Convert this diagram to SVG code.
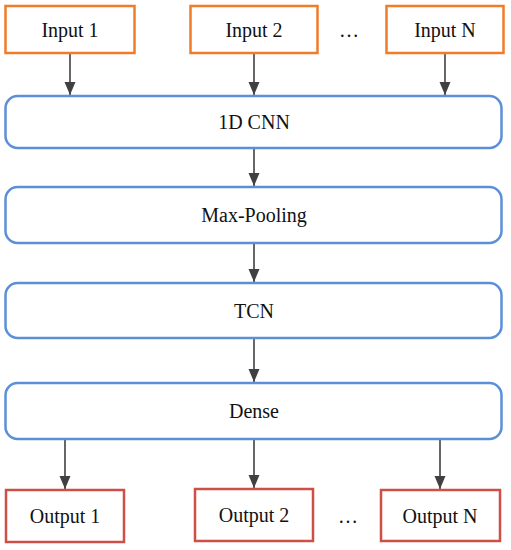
<svg xmlns="http://www.w3.org/2000/svg" width="511" height="550" viewBox="0 0 511 550">
<style>
text{font-size:20px;fill:#111;text-anchor:middle;dominant-baseline:central}
.in{fill:#fff;stroke:#F07C28;stroke-width:2.5}
.out{fill:#fff;stroke:#CF4F46;stroke-width:2.5}
.layer{fill:#fff;stroke:#5B8FD8;stroke-width:2.5}
.c{stroke:#404040;stroke-width:1.6;fill:none;marker-end:url(#ah)}
</style>
<defs>
<marker id="ah" markerWidth="14" markerHeight="12" refX="13" refY="5.5" orient="auto" markerUnits="userSpaceOnUse"><path d="M0,0 L13,5.5 L0,11 z" fill="#404040"/></marker>
</defs>
<g id="connectors">
<line class="c" x1="70" y1="53" x2="70" y2="95"/>
<line class="c" x1="254" y1="53" x2="254" y2="95"/>
<line class="c" x1="445" y1="53" x2="445" y2="95"/>
<line class="c" x1="254" y1="148" x2="254" y2="186"/>
<line class="c" x1="254" y1="243" x2="254" y2="282"/>
<line class="c" x1="254" y1="338" x2="254" y2="382"/>
<line class="c" x1="65" y1="439" x2="65" y2="489"/>
<line class="c" x1="254" y1="439" x2="254" y2="488"/>
<line class="c" x1="440" y1="439" x2="440" y2="489"/>
</g>
<g font-family="Liberation Serif">
<g id="input1"><rect class="in" x="5.5" y="6" width="129" height="47"/><text x="70" y="30" font-family="Liberation Serif">Input 1</text></g>
<g id="input2"><rect class="in" x="190.5" y="6" width="127" height="47"/><text x="254" y="30" font-family="Liberation Serif">Input 2</text></g>
<text x="349" y="30" font-family="Liberation Serif">…</text>
<g id="inputN"><rect class="in" x="386.5" y="6" width="117" height="47"/><text x="445" y="30" font-family="Liberation Serif">Input N</text></g>
<g id="cnn"><rect class="layer" x="5.5" y="96" width="496" height="52" rx="12"/><text x="254" y="122" font-family="Liberation Serif">1D CNN</text></g>
<g id="maxpool"><rect class="layer" x="5.5" y="187" width="496" height="56" rx="12"/><text x="254" y="215" font-family="Liberation Serif">Max-Pooling</text></g>
<g id="tcn"><rect class="layer" x="5.5" y="283" width="496" height="55" rx="12"/><text x="254" y="311" font-family="Liberation Serif">TCN</text></g>
<g id="dense"><rect class="layer" x="5.5" y="383" width="496" height="56" rx="12"/><text x="254" y="411" font-family="Liberation Serif">Dense</text></g>
<g id="output1"><rect class="out" x="6" y="490" width="118" height="52"/><text x="65" y="516" font-family="Liberation Serif">Output 1</text></g>
<g id="output2"><rect class="out" x="195" y="489" width="118" height="52"/><text x="254" y="515" font-family="Liberation Serif">Output 2</text></g>
<text x="348" y="516" font-family="Liberation Serif">…</text>
<g id="outputN"><rect class="out" x="381" y="490" width="119" height="51"/><text x="440" y="516" font-family="Liberation Serif">Output N</text></g>
</g>
</svg>
